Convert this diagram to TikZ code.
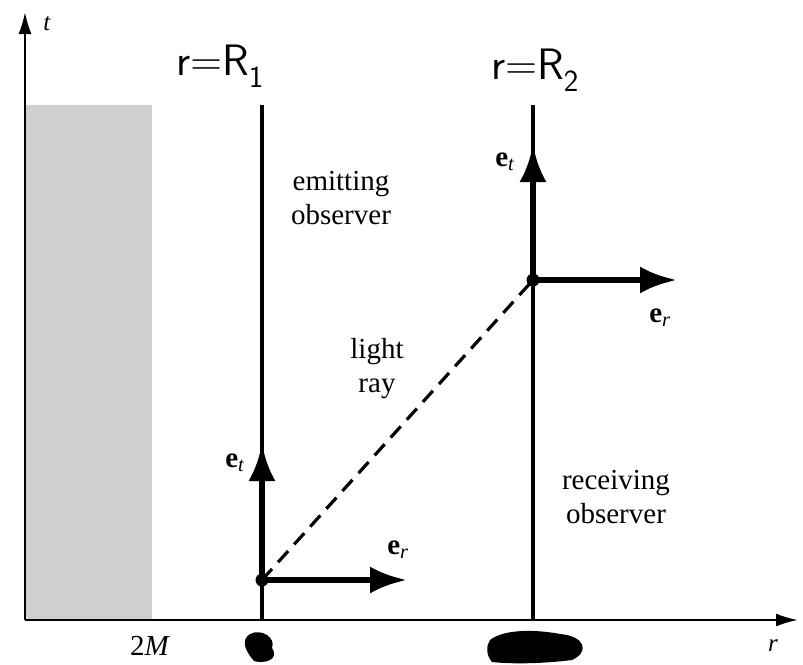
\documentclass[tikz,border=0pt]{standalone}
\usepackage{fontspec}
\setmainfont{Liberation Serif}
\usetikzlibrary{arrows.meta}
\tikzset{
  axis/.style={line width=2.2pt,-{Latex[length=22pt,width=13pt]}},
  worldline/.style={line width=3.6pt},
  basis/.style={line width=6.5pt,-{Latex[length=37pt,width=27pt]}},
  lbl/.style={font=\fontsize{29}{34}\selectfont,align=center},
  hand/.style={font=\fontsize{44}{48}\sffamily\selectfont}
}
\begin{document}
\begin{tikzpicture}[x=1pt,y=-1pt]
\useasboundingbox (0,0) rectangle (803,664);
\fill[gray!38] (25,105) rectangle (152,620);
\coordinate (O) at (25,620);
\coordinate (tend) at (25,12);
\coordinate (rend) at (798,620);
\draw[axis] (O)--(tend);
\draw[axis] (O)--(rend);
\node[lbl,font=\fontsize{25}{28}\selectfont] (tlbl) at (47,24) {\textit{t}};
\node[lbl,font=\fontsize{25}{28}\selectfont] (rlbl) at (773,646) {\textit{r}};
\node[lbl,font=\fontsize{29}{32}\selectfont] (twoM) at (150,646) {2\textit{M}};
% world lines
\coordinate (R1top) at (262,105);
\coordinate (R1bot) at (262,620);
\coordinate (R2top) at (533,105);
\coordinate (R2bot) at (533,620);
\draw[worldline] (R1top)--(R1bot);
\draw[worldline] (R2top)--(R2bot);
\node[hand] (R1lbl) at (220,66) {r=R\textsubscript{1}};
\node[hand] (R2lbl) at (535,70) {r=R\textsubscript{2}};
% events
\coordinate (A) at (262,580);
\coordinate (B) at (533,280);
\coordinate (Aet) at (262,444);
\coordinate (Aer) at (407,580);
\coordinate (Bet) at (533,145);
\coordinate (Ber) at (677,280);
\draw[line width=3.2pt,dash pattern=on 15pt off 9pt] (A)--(B);
\draw[basis] (A)--(Aet);
\draw[basis] (A)--(Aer);
\draw[basis] (B)--(Bet);
\draw[basis] (B)--(Ber);
\fill (A) circle (6.5pt);
\fill (B) circle (6.5pt);
\node[lbl] (etA) at (235,463) {\textbf{e}\textsubscript{\textit{t}}};
\node[lbl] (erA) at (398,550) {\textbf{e}\textsubscript{\textit{r}}};
\node[lbl] (etB) at (505,162) {\textbf{e}\textsubscript{\textit{t}}};
\node[lbl] (erB) at (660,318) {\textbf{e}\textsubscript{\textit{r}}};
\node[lbl] (emit) at (341,198) {emitting\\observer};
\node[lbl] (ray) at (377,369) {light\\ray};
\node[lbl] (recv) at (616,497) {receiving\\observer};
% scribbles over the axis marks
\fill (250,634) .. controls (262,628) and (276,638) .. (272,648) .. controls (280,660) and (264,664) .. (254,661) .. controls (246,652) and (240,640) .. cycle;
\fill (490,640) .. controls (505,628) and (540,630) .. (560,634) .. controls (585,636) and (590,652) .. (572,660) .. controls (540,664) and (510,664) .. (492,662) .. controls (486,655) and (486,646) .. cycle;
\end{tikzpicture}
\end{document}
